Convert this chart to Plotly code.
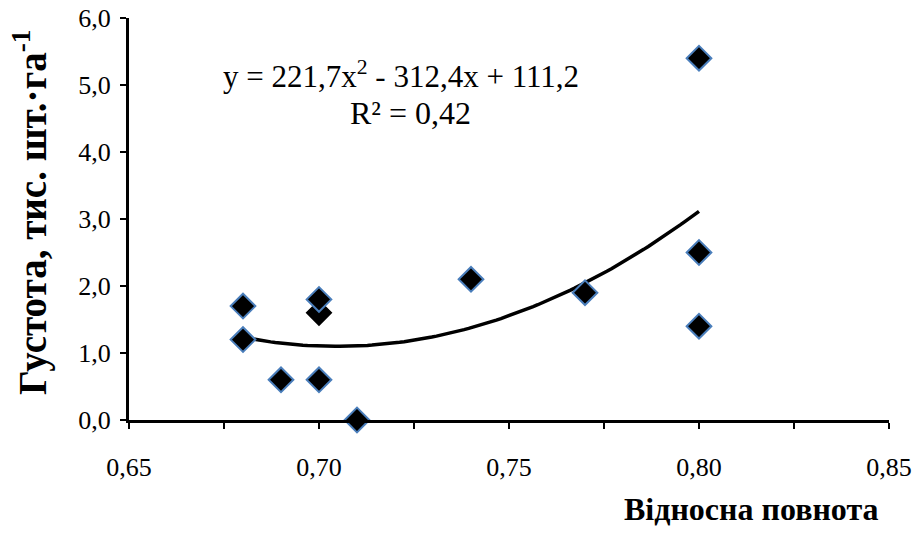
import numpy as np
import plotly.graph_objects as go

# Data
x_vals = [0.68, 0.68, 0.69, 0.70, 0.70, 0.71, 0.74, 0.77, 0.80, 0.80, 0.80]
y_vals = [1.7, 1.2, 0.6, 1.8, 0.6, 0.0, 2.1, 1.9, 5.4, 2.5, 1.4]
x_hidden = [0.70]
y_hidden = [1.6]

x_ticks = [0.65, 0.70, 0.75, 0.80, 0.85]
x_tick_labels = ["0,65", "0,70", "0,75", "0,80", "0,85"]
y_ticks = [0, 1, 2, 3, 4, 5, 6]
y_tick_labels = ["0,0", "1,0", "2,0", "3,0", "4,0", "5,0", "6,0"]

# Polynomial trendline (2nd order), fitted like the spreadsheet does
all_x = np.array(x_vals + x_hidden)
all_y = np.array(y_vals + y_hidden)
coef = np.polyfit(all_x, all_y, 2)
tx = np.linspace(min(all_x), max(all_x), 100)
ty = np.polyval(coef, tx)

FONT = "Liberation Serif"

fig = go.Figure()
fig.add_trace(go.Scatter(
    x=x_hidden, y=y_hidden, mode="markers",
    marker=dict(symbol="diamond", size=19, color="black",
                line=dict(color="black", width=1.5)),
    showlegend=False, cliponaxis=False))
fig.add_trace(go.Scatter(
    x=tx, y=ty, mode="lines", line=dict(color="black", width=3.5),
    showlegend=False))
fig.add_trace(go.Scatter(
    x=x_vals, y=y_vals, mode="markers",
    marker=dict(symbol="diamond", size=19, color="black",
                line=dict(color="#4A7EBB", width=2)),
    showlegend=False, cliponaxis=False))

fig.update_layout(
    width=913, height=536,
    margin=dict(l=129, r=24, t=18, b=116),
    paper_bgcolor="white", plot_bgcolor="white",
    font=dict(family=FONT, size=24, color="black"),
    xaxis=dict(range=[0.65, 0.85], tickvals=x_ticks, ticktext=x_tick_labels,
               automargin=False,
               showgrid=False, zeroline=False, showline=True,
               linecolor="black", linewidth=3, ticks="outside",
               ticklen=6, tickwidth=2, tickcolor="black",
               minor=dict(dtick=0.025, tick0=0.65, ticks="outside", ticklen=6,
                          tickwidth=2, tickcolor="black", showgrid=False),
               tickfont=dict(family=FONT, size=26), ticklabelstandoff=16),
    yaxis=dict(range=[0, 6], tickvals=y_ticks, ticktext=y_tick_labels,
               automargin=False,
               showgrid=False, zeroline=False, showline=True,
               linecolor="black", linewidth=3, ticks="outside",
               ticklen=6, tickwidth=2, tickcolor="black",
               tickfont=dict(family=FONT, size=26), ticklabelstandoff=4),
    annotations=[
        dict(text="y = 221,7x<sup>2</sup> - 312,4x + 111,2", x=401, y=75,
             showarrow=False, font=dict(family=FONT, size=31)),
        dict(text="R² = 0,42", x=410, y=113, showarrow=False,
             font=dict(family=FONT, size=32)),
        dict(text="<b>Відносна повнота</b>", x=751, y=509, showarrow=False,
             font=dict(family=FONT, size=32)),
        dict(text="<b>Густота, тис. шт.·га<sup>-1</sup></b>", x=30, y=212,
             textangle=-90, showarrow=False, font=dict(family=FONT, size=39)),
    ],
)

# Position annotations in pixel coordinates relative to the whole figure
W, H = 913, 536
L, R, T, B = 129, 24, 18, 116
pw, ph = W - L - R, H - T - B
for a in fig.layout.annotations:
    px, py = a.x, a.y
    a.xref = "paper"
    a.yref = "paper"
    a.x = (px - L) / pw
    a.y = (H - B - py) / ph
    a.xanchor = "center"
    a.yanchor = "middle"

fig.write_html("out.html", config={"displayModeBar": False},
               post_script="document.body.style.margin='0';document.body.style.overflow='hidden';")
